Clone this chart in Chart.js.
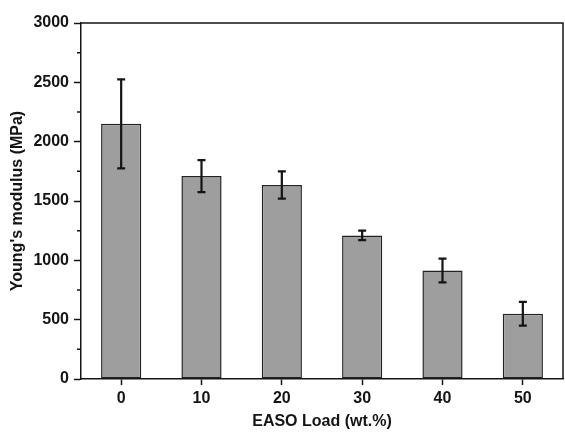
<!DOCTYPE html>
<html>
<head>
<meta charset="utf-8">
<title>Young's modulus vs EASO load</title>
<script src="https://cdn.jsdelivr.net/npm/chart.js@4.4.0/dist/chart.umd.min.js"></script>
<style>
  html, body { margin: 0; padding: 0; background: #fff; }
  #wrap { width: 565px; height: 432px; }
</style>
</head>
<body>
<div id="wrap"><canvas id="modulus"></canvas></div>
<script>
    // values
    var loads = ['0', '10', '20', '30', '40', '50'];
    var modulus = [2150, 1710, 1635, 1210, 915, 550];
    var modulusErr = [375, 135, 115, 40, 100, 100];
    var minorTicks = [250, 750, 1250, 1750, 2250, 2750];

    var ink = '#141414';
    var fontFam = '"Liberation Sans", Arial, sans-serif';

    // error bars, minor y ticks and the frame round the plot
    var extras = {
        id: 'extras',
        afterDatasetsDraw: function(chart) {
            var ctx = chart.ctx;
            var xs = chart.scales.x, ys = chart.scales.y;
            ctx.save();
            ctx.strokeStyle = ink;
            ctx.lineWidth = 2.2;
            for (var i = 0; i < modulus.length; i++) {
                var x = xs.getPixelForValue(i);
                var yHi = ys.getPixelForValue(modulus[i] + modulusErr[i]);
                var yLo = ys.getPixelForValue(modulus[i] - modulusErr[i]);
                ctx.beginPath();
                ctx.moveTo(x, yHi); ctx.lineTo(x, yLo);
                ctx.moveTo(x - 4, yHi); ctx.lineTo(x + 4, yHi);
                ctx.moveTo(x - 4, yLo); ctx.lineTo(x + 4, yLo);
                ctx.stroke();
            }
            ctx.restore();
        },
        afterDraw: function(chart) {
            var ctx = chart.ctx;
            var a = chart.chartArea;
            var ys = chart.scales.y;
            ctx.save();
            ctx.strokeStyle = ink;
            ctx.lineWidth = 1.5;
            ctx.beginPath();
            ctx.moveTo(a.left, a.top); ctx.lineTo(a.right, a.top);
            ctx.lineTo(a.right, a.bottom);
            ctx.stroke();
            ctx.beginPath();
            for (var k = 0; k < minorTicks.length; k++) {
                var y = ys.getPixelForValue(minorTicks[k]);
                ctx.moveTo(a.left - 4, y); ctx.lineTo(a.left, y);
            }
            ctx.stroke();
            ctx.restore();
        }
    };

    new Chart(document.getElementById('modulus'), {
        type: 'bar',
        data: {
            labels: loads,
            datasets: [{
                label: "Young's modulus",
                data: modulus,
                backgroundColor: '#9e9e9e',
                borderColor: '#222',
                borderWidth: 1.5,
                borderSkipped: false,
                barPercentage: 0.5,
                categoryPercentage: 1
            }]
        },
        options: {
            responsive: true,
            maintainAspectRatio: false,
            animation: false,
            layout: { padding: { top: 23, right: 2, left: 0, bottom: 0 } },
            plugins: { legend: { display: false }, tooltip: { enabled: false } },
            scales: {
                x: {
                    afterFit: function(s) { s.height = 53; },
                    grid: { display: true, drawOnChartArea: false, offset: false, tickLength: 6, tickColor: ink, tickWidth: 1.5 },
                    border: { color: ink, width: 1.5 },
                    ticks: { color: ink, padding: 4, font: { family: fontFam, size: 16, weight: 'bold' } },
                    title: {
                        display: true,
                        text: 'EASO Load (wt.%)',
                        color: ink,
                        padding: { top: 0, bottom: 1 },
                        font: { family: fontFam, size: 16, weight: 'bold' }
                    }
                },
                y: {
                    min: 0,
                    max: 3000,
                    afterFit: function(s) { s.width = 81; },
                    grid: { display: true, drawOnChartArea: false, tickLength: 7, tickColor: ink, tickWidth: 1.5 },
                    border: { color: ink, width: 1.5 },
                    ticks: {
                        stepSize: 500,
                        color: ink,
                        padding: 5,
                        font: { family: fontFam, size: 16, weight: 'bold' },
                        callback: function(v) { return String(v); }
                    },
                    title: {
                        display: true,
                        text: "Young's modulus (MPa)",
                        color: ink,
                        padding: 8,
                        font: { family: fontFam, size: 16, weight: 'bold' }
                    }
                }
            }
        },
        plugins: [extras]
    });
</script>
</body>
</html>
